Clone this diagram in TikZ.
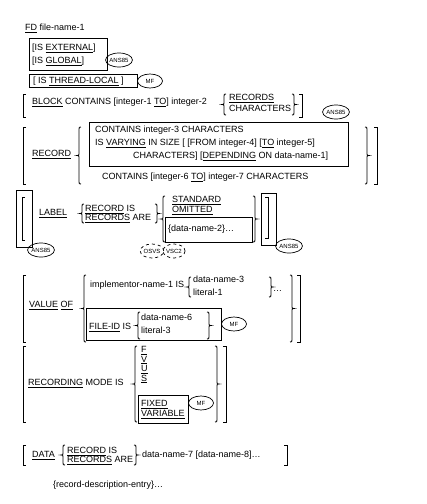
\documentclass[tikz,border=0pt]{standalone}
\usepackage{fontspec}
\setmainfont{Liberation Sans}
\usepackage{tikz}
\usetikzlibrary{shapes.geometric}
\tikzset{
    txt/.style={anchor=west, inner sep=0pt, text height=6.6pt, text depth=1.4pt, font=\fontsize{9}{10}\selectfont},
    grp/.style={draw=black, line width=0.8pt},
    brk/.style={draw=black, line width=0.8pt},
    note/.style={ellipse, draw=black, line width=0.7pt, inner sep=0pt, minimum width=25pt, minimum height=14pt, font=\fontsize{6}{6}\selectfont},
    dnote/.style={note, dashed, minimum width=22pt}
}
% syntax helpers
\newcommand{\kw}[1]{\underline{#1}}
\newcommand{\openbrk}[3]{\draw[brk] ({#1+3},#2) -- (#1,#2) -- (#1,#3) -- ({#1+3},#3);}
\newcommand{\closebrk}[3]{\draw[brk] ({#1-3},#2) -- (#1,#2) -- (#1,#3) -- ({#1-3},#3);}
\newcommand{\openbrace}[3]{\draw[brk] ({#1+3},#2) .. controls ({#1+1},#2) .. ({#1+1},{#2+3})
    -- ({#1+1},{(#2+#3)/2-2}) .. controls ({#1+1},{(#2+#3)/2}) .. ({#1-1},{(#2+#3)/2})
    .. controls ({#1+1},{(#2+#3)/2}) .. ({#1+1},{(#2+#3)/2+2})
    -- ({#1+1},{#3-3}) .. controls ({#1+1},#3) .. ({#1+3},#3);}
\newcommand{\closebrace}[3]{\draw[brk] ({#1-3},#2) .. controls ({#1-1},#2) .. ({#1-1},{#2+3})
    -- ({#1-1},{(#2+#3)/2-2}) .. controls ({#1-1},{(#2+#3)/2}) .. ({#1+1},{(#2+#3)/2})
    .. controls ({#1-1},{(#2+#3)/2}) .. ({#1-1},{(#2+#3)/2+2})
    -- ({#1-1},{#3-3}) .. controls ({#1-1},#3) .. ({#1-3},#3);}
\begin{document}
\begin{tikzpicture}[x=1pt, y=-1pt]
    \useasboundingbox (0,0) rectangle (427,504);

    % FD header
    \node[txt] (fd) at (25,28) {\kw{FD} file-name-1};
    \draw[grp] (29,38) rectangle (107,70);
    \node[txt] (ext) at (32,48) {[IS \kw{EXTERNAL}]};
    \node[txt] (glob) at (32,61) {[IS \kw{GLOBAL}]};
    \node[note] (ansA) at (119,60) {ANS85};
    \draw[grp] (29,74) rectangle (137,87);
    \node[txt] (thread) at (33,81) {[ IS \kw{THREAD-LOCAL} ]};
    \node[note] (mfA) at (150,81) {MF};

    % BLOCK clause
    \openbrk{23}{94}{117}
    \node[txt] (block) at (32,102) {\kw{BLOCK} CONTAINS [integer-1 \kw{TO}] integer-2};
    \openbrace{223}{94}{115}
    \node[txt] (blkrec) at (229,98) {\kw{RECORDS}};
    \node[txt] (blkchr) at (229,109) {CHARACTERS};
    \closebrace{295}{94}{115}
    \closebrk{302}{94}{117}
    \node[note] (ansB) at (336,112) {ANS85};

    % RECORD clause
    \openbrk{23}{127}{184}
    \node[txt] (record) at (32,154) {\kw{RECORD}};
    \openbrace{78}{127}{184}
    \draw[grp] (89,122) rectangle (348,166);
    \node[txt] (recA) at (95,130) {CONTAINS integer-3 CHARACTERS};
    \node[txt] (recB) at (95,143) {IS \kw{VARYING} IN SIZE [ [FROM integer-4] [\kw{TO} integer-5]};
    \node[txt] (recC) at (133,156) {CHARACTERS] [\kw{DEPENDING} ON data-name-1]};
    \node[txt] (recD) at (102,177) {CONTAINS [integer-6 \kw{TO}] integer-7 CHARACTERS};
    \closebrace{368}{127}{184}
    \closebrk{377}{127}{184}

    % LABEL clause
    \draw[grp] (16,190) rectangle (32,247);
    \openbrk{22}{197}{240}
    \node[note] (ansC) at (41,250) {ANS85};
    \node[txt] (label) at (39,213) {\kw{LABEL}};
    \openbrace{81}{204}{223}
    \node[txt] (lblrec) at (85,209) {\kw{RECORD} IS};
    \node[txt] (lblrecs) at (85,218) {\kw{RECORDS} ARE};
    \closebrace{158}{204}{223}
    \openbrace{162}{196}{242}
    \node[txt] (std) at (172,200) {\kw{STANDARD}};
    \node[txt] (omit) at (172,210) {\kw{OMITTED}};
    \draw[grp] (165,217) rectangle (252,242);
    \node[txt] (dn2) at (168,229) {\{data-name-2\}\ldots};
    \closebrace{256}{196}{242}
    \draw[grp] (261,193) rectangle (276,245);
    \closebrk{268}{197}{238}
    \node[note] (ansD) at (289,246) {ANS85};
    \node[dnote] (osvs) at (152,251) {OSVS};
    \node[dnote] (vsc) at (174,251) {VSC2};

    % VALUE OF clause
    \openbrk{23}{275}{342}
    \node[txt] (value) at (29,305) {\kw{VALUE} \kw{OF}};
    \openbrace{83}{275}{342}
    \node[txt] (impl) at (90,285) {implementor-name-1 IS};
    \openbrace{188}{277}{297}
    \node[txt] (dn3) at (193,280) {data-name-3};
    \node[txt] (lit1) at (193,293) {literal-1};
    \closebrace{272}{277}{297}
    \node[txt] (dotsA) at (273,289) {\ldots};
    \draw[grp] (86,308) rectangle (221,340);
    \node[txt] (fileid) at (89,327) {\kw{FILE-ID} IS};
    \openbrace{137}{312}{339}
    \node[txt] (dn6) at (141,318) {data-name-6};
    \node[txt] (lit3) at (141,331) {literal-3};
    \closebrace{210}{312}{339}
    \node[note] (mfB) at (234,324) {MF};
    \closebrace{293}{275}{342}
    \closebrk{300}{275}{342}

    % RECORDING MODE clause
    \openbrk{23}{346}{422}
    \node[txt] (recmode) at (28,383) {\kw{RECORDING} MODE IS};
    \openbrace{134}{346}{422}
    \node[txt] (mF) at (141,350) {\kw{F}};
    \node[txt] (mV) at (141,359.5) {\kw{V}};
    \node[txt] (mU) at (141,369) {\kw{U}};
    \node[txt] (mS) at (141,378.5) {\kw{S}};
    \draw[grp] (138,395) rectangle (188,423);
    \node[txt] (fixed) at (141,404) {\kw{FIXED}};
    \node[txt] (var) at (141,414) {\kw{VARIABLE}};
    \node[note] (mfC) at (201,403) {MF};
    \closebrace{218}{346}{422}
    \closebrk{226}{346}{422}

    % DATA RECORDS clause
    \openbrk{23}{445}{465}
    \node[txt] (data) at (32,455) {\kw{DATA}};
    \openbrace{62}{445}{465}
    \node[txt] (datrec) at (67,451) {\kw{RECORD} IS};
    \node[txt] (datrecs) at (67,460) {\kw{RECORDS} ARE};
    \closebrace{137}{445}{465}
    \node[txt] (dn7) at (142,455) {data-name-7 [data-name-8]\ldots};
    \closebrk{287}{445}{465}

    \node[txt] (rde) at (53,485) {\{record-description-entry\}\ldots};
\end{tikzpicture}
\end{document}
